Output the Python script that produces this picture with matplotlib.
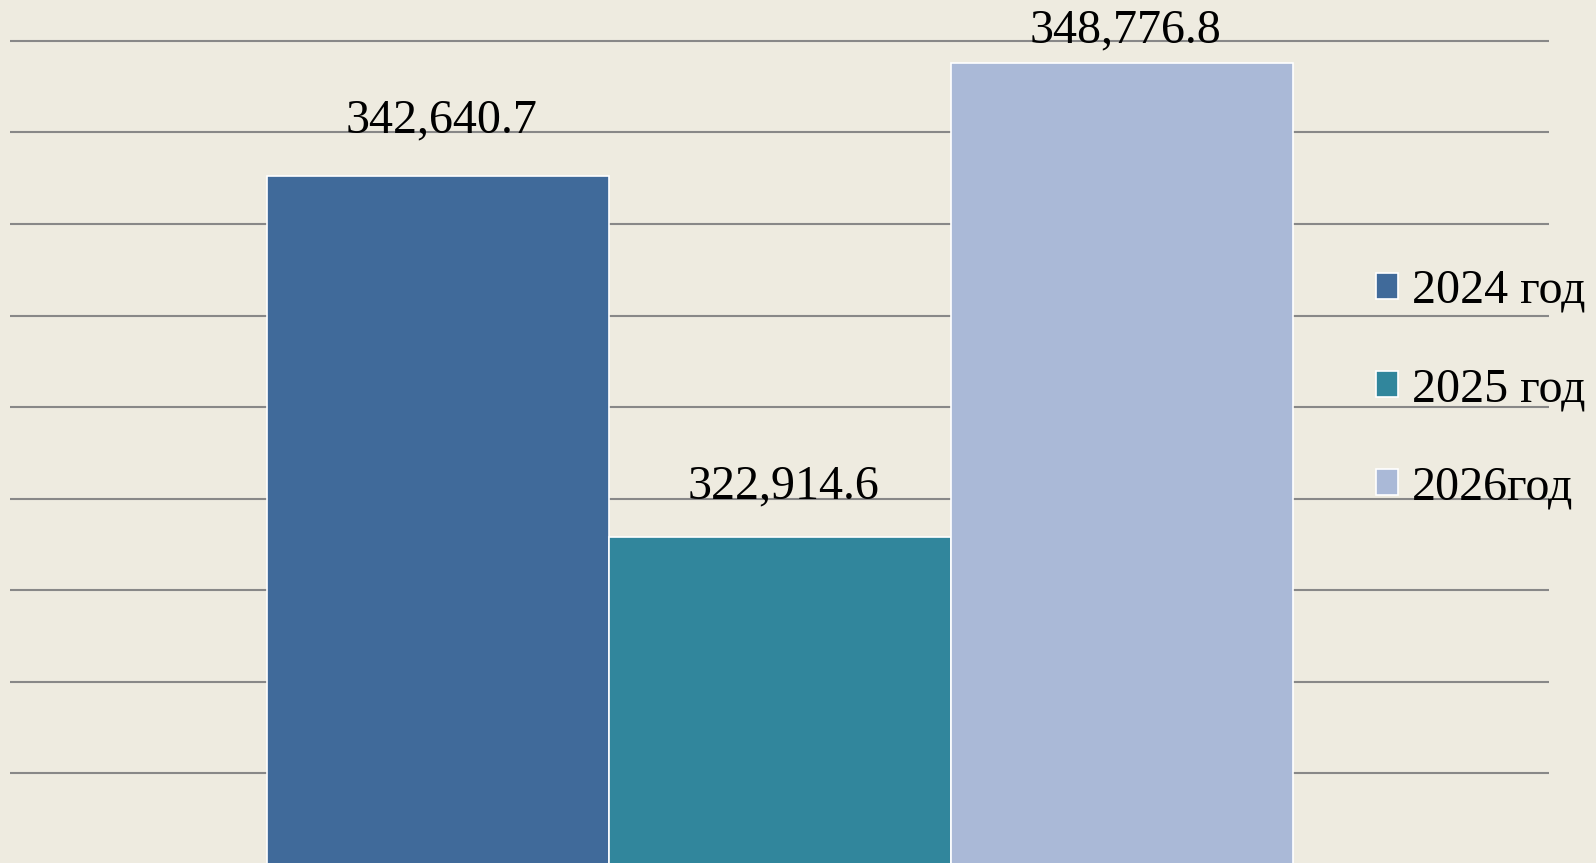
import matplotlib
matplotlib.use("Agg")
import matplotlib.pyplot as plt
from matplotlib.patches import Patch

years = ["2024 год", "2025 год", "2026год"]
values = [342640.7, 322914.6, 348776.8]
value_labels = ["342,640.7", "322,914.6", "348,776.8"]
colors = ["#406A9A", "#31869C", "#AAB9D7"]

plt.rcParams['font.family'] = ['Liberation Serif', 'DejaVu Serif']
bg = "#EEEBE0"

fig = plt.figure(figsize=(15.96, 8.63), dpi=100, facecolor=bg)
ax = fig.add_axes([10/1596, 0, 1539/1596, 1])
ax.set_facecolor(bg)

x = list(range(len(values)))
bars = ax.bar(x, values, width=1.0, color=colors, edgecolor="white", linewidth=1.2, zorder=3)

ax.set_xlim(-1.25, 3.25)
ax.set_ylim(305114, 352222)
ax.set_yticks(range(310000, 355000, 5000))
ax.yaxis.grid(True, color="#888888", linewidth=1.5, zorder=0)
ax.set_xticks([])
ax.tick_params(axis="y", left=False, labelleft=False)
for s in ax.spines.values():
    s.set_visible(False)

# label offsets above bar tops (points)
offs = [31, 28, 15]
for b, lab, o in zip(bars, value_labels, offs):
    ax.annotate(lab, (b.get_x() + b.get_width()/2, b.get_height()),
                xytext=(3, o), textcoords="offset points",
                ha="center", va="baseline", fontsize=34.6, zorder=5)

handles = [Patch(facecolor=c, edgecolor="white", linewidth=1.2) for c in colors]
fig.legend(handles, years, loc="center left", bbox_to_anchor=(1376/1596, 0.549),
           bbox_transform=fig.transFigure, frameon=False, fontsize=34.6,
           handlelength=0.46, handleheight=0.46, handletextpad=0.28,
           labelspacing=1.13, borderpad=0, borderaxespad=0)

fig.savefig("out.png", dpi=100, facecolor=bg)
